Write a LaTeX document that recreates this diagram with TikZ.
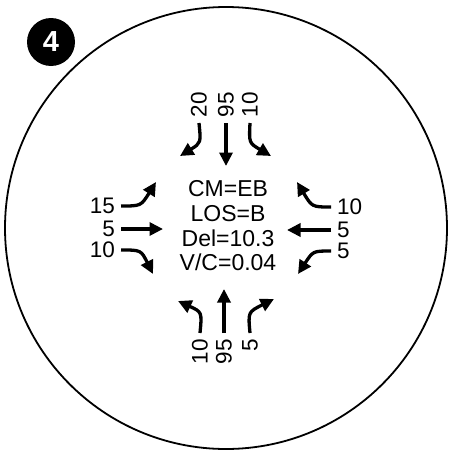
\documentclass[tikz,border=0pt]{standalone}
\usepackage{fontspec}
\setmainfont{Liberation Sans}
\usetikzlibrary{arrows.meta}

\begin{document}
\begin{tikzpicture}[x=1pt, y=-1pt,
		count/.style={font=\fontsize{22.5}{22.5}\selectfont, inner sep=0pt, outer sep=6pt},
		move/.style={-{Triangle[length=13.5pt, width=13pt]}, line width=3.3pt}]
		\useasboundingbox (0,0) rectangle (450,458);
		\draw[line width=1.8pt] (226,228) circle[radius=221pt];
		\node[circle, fill=black, minimum size=48pt, inner sep=0pt, text=white,
			font=\fontsize{29}{29}\selectfont\bfseries] (badge) at (51,42) {4};
		\node[align=center, inner sep=0pt, font=\fontsize{23}{24.7}\selectfont]
			(summary) at (228,226) {CM=EB\\LOS=B\\Del=10.3\\V/C=0.04};

		% approach volumes, north side
		\node[count, rotate=90, anchor=west] (n-n1) at (199,123) {20};
		\node[count, rotate=90, anchor=west] (n-n2) at (226,123) {95};
		\node[count, rotate=90, anchor=west] (n-n3) at (250,123) {10};
		\coordinate (t-n1) at (180,156);
		\coordinate (t-n2) at (226,166);
		\coordinate (t-n3) at (271,156);
		\draw[move] (n-n1.west) .. controls (201,143) .. (t-n1);
		\draw[move] (n-n2.west) -- (t-n2);
		\draw[move] (n-n3.west) .. controls (249,143) .. (t-n3);

		% west side
		\node[count, anchor=east] (n-w1) at (121,206) {15};
		\node[count, anchor=east] (n-w2) at (121,229) {5};
		\node[count, anchor=east] (n-w3) at (121,250) {10};
		\coordinate (t-w1) at (156,182);
		\coordinate (t-w2) at (163,229);
		\coordinate (t-w3) at (153,274);
		\draw[move] (n-w1.east) .. controls (141,206) .. (t-w1);
		\draw[move] (n-w2.east) -- (t-w2);
		\draw[move] (n-w3.east) .. controls (141,250) .. (t-w3);

		% east side
		\node[count, anchor=west] (n-e1) at (331,207) {10};
		\node[count, anchor=west] (n-e2) at (331,230) {5};
		\node[count, anchor=west] (n-e3) at (331,251) {5};
		\coordinate (t-e1) at (297,182);
		\coordinate (t-e2) at (287,230);
		\coordinate (t-e3) at (298,274);
		\draw[move] (n-e1.west) .. controls (312,207) .. (t-e1);
		\draw[move] (n-e2.west) -- (t-e2);
		\draw[move] (n-e3.west) .. controls (313,251) .. (t-e3);

		% south side
		\node[count, rotate=90, anchor=east] (n-s1) at (200,333) {10};
		\node[count, rotate=90, anchor=east] (n-s2) at (224,333) {95};
		\node[count, rotate=90, anchor=east] (n-s3) at (250,333) {5};
		\coordinate (t-s1) at (178,301);
		\coordinate (t-s2) at (224,289);
		\coordinate (t-s3) at (274,299);
		\draw[move] (n-s1.east) .. controls (202,312) .. (t-s1);
		\draw[move] (n-s2.east) -- (t-s2);
		\draw[move] (n-s3.east) .. controls (248,312) .. (t-s3);
	\end{tikzpicture}
\end{document}
